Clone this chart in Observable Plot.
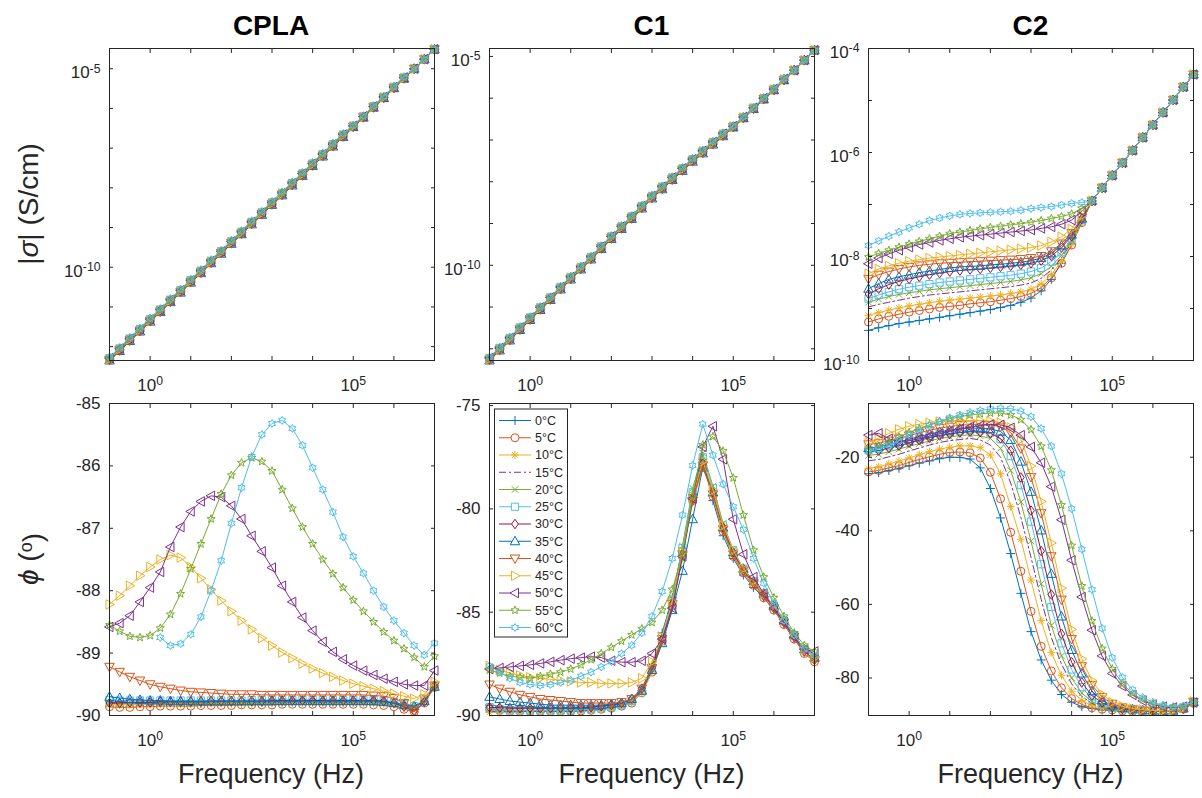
<!DOCTYPE html>
<html><head><meta charset="utf-8">
<script src="https://cdn.jsdelivr.net/npm/d3@7"></script>
<script src="https://cdn.jsdelivr.net/npm/@observablehq/plot@0.6"></script>
<style>
html,body{margin:0;padding:0;background:#fff;overflow:hidden;}
#fig{position:relative;width:1202px;height:798px;background:#fff;font-family:"Liberation Sans",Arial,Helvetica,sans-serif;}
</style></head><body><div id="fig"></div>
<script>
// ---------------- DATA ----------------
const temps = ["0°C","5°C","10°C","15°C","20°C","25°C","30°C","35°C","40°C","45°C","50°C","55°C","60°C"];
const panelTitles = ["CPLA","C1","C2"];
const logFreq = [-1,-0.75,-0.5,-0.25,0,0.25,0.5,0.75,1,1.25,1.5,
  1.75,2,2.25,2.5,2.75,3,3.25,3.5,3.75,4,4.25,
  4.5,4.75,5,5.25,5.5,5.75,6,6.25,6.5,6.75,7];
const xDecadeExps = [-1,0,1,2,3,4,5,6,7];
const xLabelExps = [0,5];

// log10 |sigma| (S/cm), one row per temperature
const sigCPLA = [
 [-12.35,-12.11,-11.86,-11.62,-11.37,-11.13,-10.88,-10.64,-10.39,-10.15,-9.9,-9.66,-9.41,-9.17,-8.92,-8.68,-8.43,-8.19,-7.94,-7.7,-7.45,-7.21,-6.96,-6.72,-6.47,-6.23,-5.98,-5.74,-5.49,-5.25,-5,-4.76,-4.51],
 [-12.33,-12.09,-11.84,-11.6,-11.35,-11.11,-10.86,-10.62,-10.37,-10.13,-9.88,-9.64,-9.39,-9.15,-8.9,-8.66,-8.41,-8.17,-7.92,-7.68,-7.43,-7.19,-6.94,-6.7,-6.46,-6.22,-5.97,-5.73,-5.48,-5.24,-5,-4.76,-4.51],
 [-12.33,-12.09,-11.84,-11.6,-11.35,-11.11,-10.86,-10.62,-10.37,-10.13,-9.88,-9.64,-9.39,-9.15,-8.9,-8.66,-8.41,-8.17,-7.92,-7.68,-7.43,-7.19,-6.94,-6.7,-6.46,-6.22,-5.97,-5.73,-5.48,-5.24,-5,-4.76,-4.51],
 [-12.31,-12.07,-11.82,-11.58,-11.33,-11.09,-10.84,-10.6,-10.35,-10.11,-9.86,-9.62,-9.37,-9.13,-8.88,-8.64,-8.39,-8.15,-7.9,-7.66,-7.41,-7.17,-6.92,-6.68,-6.45,-6.21,-5.96,-5.72,-5.47,-5.23,-5,-4.76,-4.51],
 [-12.31,-12.07,-11.82,-11.58,-11.33,-11.09,-10.84,-10.6,-10.35,-10.11,-9.86,-9.62,-9.37,-9.13,-8.88,-8.64,-8.39,-8.15,-7.9,-7.66,-7.41,-7.17,-6.92,-6.68,-6.45,-6.21,-5.96,-5.72,-5.47,-5.23,-5,-4.76,-4.51],
 [-12.29,-12.05,-11.8,-11.56,-11.31,-11.07,-10.82,-10.58,-10.33,-10.09,-9.84,-9.6,-9.35,-9.11,-8.86,-8.62,-8.37,-8.13,-7.88,-7.64,-7.39,-7.15,-6.9,-6.66,-6.44,-6.2,-5.95,-5.71,-5.46,-5.22,-5,-4.76,-4.51],
 [-12.31,-12.07,-11.82,-11.58,-11.33,-11.09,-10.84,-10.6,-10.35,-10.11,-9.86,-9.62,-9.37,-9.13,-8.88,-8.64,-8.39,-8.15,-7.9,-7.66,-7.41,-7.17,-6.92,-6.68,-6.45,-6.21,-5.96,-5.72,-5.47,-5.23,-5,-4.76,-4.51],
 [-12.35,-12.11,-11.86,-11.62,-11.37,-11.13,-10.88,-10.64,-10.39,-10.15,-9.9,-9.66,-9.41,-9.17,-8.92,-8.68,-8.43,-8.19,-7.94,-7.7,-7.45,-7.21,-6.96,-6.72,-6.47,-6.23,-5.98,-5.74,-5.49,-5.25,-5,-4.76,-4.51],
 [-12.33,-12.09,-11.84,-11.6,-11.35,-11.11,-10.86,-10.62,-10.37,-10.13,-9.88,-9.64,-9.39,-9.15,-8.9,-8.66,-8.41,-8.17,-7.92,-7.68,-7.43,-7.19,-6.94,-6.7,-6.46,-6.22,-5.97,-5.73,-5.48,-5.24,-5,-4.76,-4.51],
 [-12.31,-12.07,-11.82,-11.58,-11.33,-11.09,-10.84,-10.6,-10.35,-10.11,-9.86,-9.62,-9.37,-9.13,-8.88,-8.64,-8.39,-8.15,-7.9,-7.66,-7.41,-7.17,-6.92,-6.68,-6.45,-6.21,-5.96,-5.72,-5.47,-5.23,-5,-4.76,-4.51],
 [-12.29,-12.05,-11.8,-11.56,-11.31,-11.07,-10.82,-10.58,-10.33,-10.09,-9.84,-9.6,-9.35,-9.11,-8.86,-8.62,-8.37,-8.13,-7.88,-7.64,-7.39,-7.15,-6.9,-6.66,-6.44,-6.2,-5.95,-5.71,-5.46,-5.22,-5,-4.76,-4.51],
 [-12.29,-12.05,-11.8,-11.56,-11.31,-11.07,-10.82,-10.58,-10.33,-10.09,-9.84,-9.6,-9.35,-9.11,-8.86,-8.62,-8.37,-8.13,-7.88,-7.64,-7.39,-7.15,-6.9,-6.66,-6.44,-6.2,-5.95,-5.71,-5.46,-5.22,-5,-4.76,-4.51],
 [-12.26,-12.02,-11.77,-11.53,-11.28,-11.04,-10.79,-10.55,-10.3,-10.06,-9.81,-9.57,-9.32,-9.08,-8.83,-8.59,-8.34,-8.1,-7.85,-7.61,-7.36,-7.12,-6.87,-6.63,-6.42,-6.18,-5.93,-5.69,-5.44,-5.2,-5,-4.76,-4.51]
];
const sigC1 = [
 [-12.28,-12.04,-11.8,-11.55,-11.31,-11.07,-10.83,-10.58,-10.34,-10.1,-9.86,-9.61,-9.37,-9.13,-8.89,-8.64,-8.4,-8.18,-7.96,-7.74,-7.52,-7.32,-7.11,-6.91,-6.7,-6.48,-6.26,-6.03,-5.81,-5.57,-5.33,-5.09,-4.85],
 [-12.26,-12.02,-11.78,-11.53,-11.29,-11.05,-10.81,-10.56,-10.32,-10.08,-9.84,-9.59,-9.35,-9.11,-8.87,-8.62,-8.38,-8.16,-7.94,-7.72,-7.5,-7.3,-7.09,-6.89,-6.69,-6.47,-6.25,-6.02,-5.8,-5.56,-5.33,-5.09,-4.85],
 [-12.26,-12.02,-11.78,-11.53,-11.29,-11.05,-10.81,-10.56,-10.32,-10.08,-9.84,-9.59,-9.35,-9.11,-8.87,-8.62,-8.38,-8.16,-7.94,-7.72,-7.5,-7.3,-7.09,-6.89,-6.69,-6.47,-6.25,-6.02,-5.8,-5.56,-5.33,-5.09,-4.85],
 [-12.24,-12,-11.76,-11.51,-11.27,-11.03,-10.79,-10.54,-10.3,-10.06,-9.82,-9.57,-9.33,-9.09,-8.85,-8.6,-8.36,-8.14,-7.92,-7.7,-7.48,-7.28,-7.07,-6.87,-6.68,-6.46,-6.24,-6.01,-5.79,-5.55,-5.33,-5.09,-4.85],
 [-12.24,-12,-11.76,-11.51,-11.27,-11.03,-10.79,-10.54,-10.3,-10.06,-9.82,-9.57,-9.33,-9.09,-8.85,-8.6,-8.36,-8.14,-7.92,-7.7,-7.48,-7.28,-7.07,-6.87,-6.68,-6.46,-6.24,-6.01,-5.79,-5.55,-5.33,-5.09,-4.85],
 [-12.22,-11.98,-11.74,-11.49,-11.25,-11.01,-10.77,-10.52,-10.28,-10.04,-9.8,-9.55,-9.31,-9.07,-8.83,-8.58,-8.34,-8.12,-7.9,-7.68,-7.46,-7.26,-7.05,-6.85,-6.67,-6.45,-6.23,-6,-5.78,-5.54,-5.33,-5.09,-4.85],
 [-12.24,-12,-11.76,-11.51,-11.27,-11.03,-10.79,-10.54,-10.3,-10.06,-9.82,-9.57,-9.33,-9.09,-8.85,-8.6,-8.36,-8.14,-7.92,-7.7,-7.48,-7.28,-7.07,-6.87,-6.68,-6.46,-6.24,-6.01,-5.79,-5.55,-5.33,-5.09,-4.85],
 [-12.28,-12.04,-11.8,-11.55,-11.31,-11.07,-10.83,-10.58,-10.34,-10.1,-9.86,-9.61,-9.37,-9.13,-8.89,-8.64,-8.4,-8.18,-7.96,-7.74,-7.52,-7.32,-7.11,-6.91,-6.7,-6.48,-6.26,-6.03,-5.81,-5.57,-5.33,-5.09,-4.85],
 [-12.26,-12.02,-11.78,-11.53,-11.29,-11.05,-10.81,-10.56,-10.32,-10.08,-9.84,-9.59,-9.35,-9.11,-8.87,-8.62,-8.38,-8.16,-7.94,-7.72,-7.5,-7.3,-7.09,-6.89,-6.69,-6.47,-6.25,-6.02,-5.8,-5.56,-5.33,-5.09,-4.85],
 [-12.24,-12,-11.76,-11.51,-11.27,-11.03,-10.79,-10.54,-10.3,-10.06,-9.82,-9.57,-9.33,-9.09,-8.85,-8.6,-8.36,-8.14,-7.92,-7.7,-7.48,-7.28,-7.07,-6.87,-6.68,-6.46,-6.24,-6.01,-5.79,-5.55,-5.33,-5.09,-4.85],
 [-12.22,-11.98,-11.74,-11.49,-11.25,-11.01,-10.77,-10.52,-10.28,-10.04,-9.8,-9.55,-9.31,-9.07,-8.83,-8.58,-8.34,-8.12,-7.9,-7.68,-7.46,-7.26,-7.05,-6.85,-6.67,-6.45,-6.23,-6,-5.78,-5.54,-5.33,-5.09,-4.85],
 [-12.22,-11.98,-11.74,-11.49,-11.25,-11.01,-10.77,-10.52,-10.28,-10.04,-9.8,-9.55,-9.31,-9.07,-8.83,-8.58,-8.34,-8.12,-7.9,-7.68,-7.46,-7.26,-7.05,-6.85,-6.67,-6.45,-6.23,-6,-5.78,-5.54,-5.33,-5.09,-4.85],
 [-12.2,-11.96,-11.72,-11.47,-11.23,-10.99,-10.75,-10.5,-10.26,-10.02,-9.78,-9.53,-9.29,-9.05,-8.81,-8.56,-8.32,-8.1,-7.88,-7.66,-7.44,-7.24,-7.03,-6.83,-6.66,-6.44,-6.22,-5.99,-5.77,-5.53,-5.33,-5.09,-4.85]
];
const sigC2 = [
 [-9.42,-9.37,-9.33,-9.29,-9.26,-9.23,-9.2,-9.17,-9.14,-9.11,-9.08, -9.05,-9.02,-8.98,-8.94,-8.88,-8.8,-8.66,-8.44,-8.13,-7.76,-7.34, -6.93,-6.68,-6.44,-6.2,-5.96,-5.71,-5.47,-5.23,-4.99,-4.74,-4.5],
 [-9.26,-9.2,-9.15,-9.11,-9.07,-9.04,-9.01,-8.98,-8.96,-8.94,-8.91, -8.89,-8.87,-8.84,-8.81,-8.77,-8.71,-8.6,-8.41,-8.13,-7.78,-7.35, -6.93,-6.68,-6.44,-6.2,-5.96,-5.71,-5.47,-5.23,-4.99,-4.74,-4.5],
 [-9.13,-9.08,-9.03,-8.99,-8.95,-8.92,-8.89,-8.86,-8.84,-8.82,-8.8, -8.78,-8.76,-8.74,-8.71,-8.68,-8.63,-8.53,-8.35,-8.09,-7.76,-7.34, -6.93,-6.68,-6.44,-6.2,-5.96,-5.71,-5.47,-5.23,-4.99,-4.74,-4.5],
 [-8.97,-8.92,-8.88,-8.84,-8.8,-8.77,-8.74,-8.72,-8.7,-8.68,-8.66, -8.64,-8.62,-8.6,-8.58,-8.55,-8.51,-8.42,-8.26,-8.03,-7.73,-7.33, -6.93,-6.68,-6.44,-6.2,-5.96,-5.71,-5.47,-5.23,-4.99,-4.74,-4.5],
 [-8.88,-8.82,-8.77,-8.73,-8.7,-8.67,-8.64,-8.62,-8.6,-8.58,-8.56, -8.54,-8.52,-8.5,-8.48,-8.45,-8.41,-8.33,-8.19,-7.98,-7.7,-7.32, -6.93,-6.68,-6.44,-6.2,-5.96,-5.71,-5.47,-5.23,-4.99,-4.74,-4.5],
 [-8.81,-8.74,-8.68,-8.63,-8.59,-8.56,-8.53,-8.5,-8.48,-8.46,-8.44, -8.42,-8.4,-8.38,-8.36,-8.33,-8.29,-8.22,-8.1,-7.92,-7.66,-7.3, -6.93,-6.68,-6.44,-6.2,-5.96,-5.71,-5.47,-5.23,-4.99,-4.74,-4.5],
 [-8.72,-8.62,-8.54,-8.48,-8.43,-8.39,-8.35,-8.32,-8.29,-8.27,-8.25, -8.24,-8.22,-8.2,-8.18,-8.16,-8.13,-8.08,-7.99,-7.83,-7.61,-7.28, -6.93,-6.68,-6.44,-6.2,-5.96,-5.71,-5.47,-5.23,-4.99,-4.74,-4.5],
 [-8.62,-8.52,-8.44,-8.39,-8.35,-8.31,-8.28,-8.25,-8.22,-8.2,-8.19, -8.18,-8.16,-8.15,-8.13,-8.11,-8.08,-8.03,-7.94,-7.79,-7.58,-7.27, -6.93,-6.68,-6.44,-6.2,-5.96,-5.71,-5.47,-5.23,-4.99,-4.74,-4.5],
 [-8.43,-8.35,-8.29,-8.24,-8.2,-8.17,-8.15,-8.13,-8.12,-8.11,-8.1, -8.09,-8.08,-8.07,-8.06,-8.05,-8.03,-7.99,-7.9,-7.75,-7.55,-7.25, -6.93,-6.68,-6.44,-6.2,-5.96,-5.71,-5.47,-5.23,-4.99,-4.74,-4.5],
 [-8.33,-8.24,-8.18,-8.13,-8.09,-8.06,-8.03,-8.01,-7.99,-7.97,-7.95, -7.93,-7.91,-7.89,-7.87,-7.85,-7.83,-7.79,-7.72,-7.62,-7.47,-7.22, -6.93,-6.68,-6.44,-6.2,-5.96,-5.71,-5.47,-5.23,-4.99,-4.74,-4.5],
 [-8.14,-8.03,-7.95,-7.88,-7.82,-7.77,-7.73,-7.69,-7.66,-7.63,-7.61, -7.59,-7.57,-7.55,-7.53,-7.51,-7.49,-7.46,-7.43,-7.38,-7.3,-7.13, -6.93,-6.68,-6.44,-6.2,-5.96,-5.71,-5.47,-5.23,-4.99,-4.74,-4.5],
 [-8.01,-7.94,-7.88,-7.82,-7.76,-7.71,-7.66,-7.61,-7.56,-7.53,-7.5, -7.47,-7.44,-7.42,-7.39,-7.37,-7.34,-7.31,-7.27,-7.23,-7.18,-7.07, -6.93,-6.68,-6.44,-6.2,-5.96,-5.71,-5.47,-5.23,-4.99,-4.74,-4.5],
 [-7.79,-7.7,-7.61,-7.53,-7.45,-7.38,-7.31,-7.26,-7.22,-7.19,-7.17, -7.16,-7.15,-7.14,-7.13,-7.11,-7.08,-7.06,-7.04,-7.01,-6.98,-6.96, -6.93,-6.68,-6.44,-6.2,-5.96,-5.71,-5.47,-5.23,-4.99,-4.74,-4.5]
];

// phase phi (degrees), one row per temperature
const phiCPLA = [
 [-89.78,-89.8,-89.8,-89.81,-89.8,-89.8,-89.79,-89.8,-89.8,-89.8,-89.79, -89.79,-89.8,-89.8,-89.79,-89.79,-89.78,-89.78,-89.78,-89.78,-89.78,-89.78, -89.78,-89.78,-89.78,-89.78,-89.78,-89.79,-89.8,-89.82,-89.84,-89.78,-89.55],
 [-89.86,-89.87,-89.87,-89.86,-89.86,-89.85,-89.85,-89.85,-89.85,-89.84,-89.84, -89.84,-89.84,-89.83,-89.83,-89.83,-89.83,-89.82,-89.82,-89.82,-89.82,-89.82, -89.82,-89.82,-89.82,-89.82,-89.83,-89.84,-89.86,-89.9,-89.94,-89.8,-89.55],
 [-89.83,-89.83,-89.83,-89.82,-89.82,-89.82,-89.82,-89.82,-89.81,-89.81,-89.81, -89.81,-89.81,-89.81,-89.81,-89.8,-89.8,-89.8,-89.8,-89.8,-89.8,-89.8, -89.8,-89.8,-89.8,-89.8,-89.8,-89.81,-89.83,-89.86,-89.88,-89.78,-89.54],
 [-89.79,-89.79,-89.79,-89.79,-89.78,-89.78,-89.78,-89.78,-89.78,-89.78,-89.78, -89.78,-89.78,-89.77,-89.77,-89.77,-89.77,-89.77,-89.77,-89.77,-89.77,-89.77, -89.77,-89.77,-89.77,-89.77,-89.77,-89.78,-89.8,-89.83,-89.86,-89.77,-89.53],
 [-89.81,-89.81,-89.81,-89.8,-89.8,-89.8,-89.8,-89.8,-89.8,-89.8,-89.79, -89.79,-89.79,-89.79,-89.79,-89.79,-89.79,-89.79,-89.79,-89.79,-89.79,-89.79, -89.79,-89.79,-89.79,-89.79,-89.79,-89.8,-89.81,-89.84,-89.87,-89.77,-89.54],
 [-89.75,-89.76,-89.76,-89.76,-89.76,-89.76,-89.76,-89.76,-89.76,-89.76,-89.76, -89.76,-89.76,-89.76,-89.75,-89.75,-89.75,-89.75,-89.75,-89.75,-89.75,-89.75, -89.75,-89.75,-89.75,-89.75,-89.75,-89.76,-89.78,-89.82,-89.85,-89.76,-89.53],
 [-89.8,-89.8,-89.79,-89.79,-89.79,-89.78,-89.78,-89.78,-89.78,-89.78,-89.77, -89.77,-89.77,-89.77,-89.77,-89.77,-89.76,-89.76,-89.76,-89.76,-89.76,-89.76, -89.76,-89.76,-89.76,-89.76,-89.76,-89.77,-89.8,-89.86,-89.93,-89.78,-89.52],
 [-89.7,-89.72,-89.74,-89.75,-89.76,-89.76,-89.77,-89.77,-89.77,-89.77,-89.77, -89.77,-89.77,-89.77,-89.77,-89.77,-89.77,-89.77,-89.77,-89.77,-89.77,-89.77, -89.77,-89.77,-89.77,-89.77,-89.77,-89.78,-89.8,-89.83,-89.85,-89.77,-89.54],
 [-89.22,-89.3,-89.38,-89.44,-89.5,-89.54,-89.57,-89.6,-89.62,-89.63,-89.64, -89.65,-89.66,-89.66,-89.66,-89.67,-89.67,-89.67,-89.67,-89.67,-89.67,-89.67, -89.67,-89.67,-89.67,-89.67,-89.68,-89.69,-89.72,-89.8,-89.92,-89.73,-89.52],
 [-88.22,-88.08,-87.92,-87.76,-87.62,-87.5,-87.43,-87.47,-87.62,-87.8,-87.98, -88.16,-88.33,-88.48,-88.62,-88.76,-88.88,-88.99,-89.08,-89.17,-89.25,-89.32, -89.38,-89.44,-89.49,-89.53,-89.57,-89.61,-89.65,-89.69,-89.73,-89.66,-89.46],
 [-88.58,-88.52,-88.4,-88.18,-87.95,-87.7,-87.3,-86.98,-86.73,-86.57,-86.48, -86.5,-86.64,-86.85,-87.12,-87.37,-87.63,-87.92,-88.18,-88.43,-88.64,-88.82, -88.98,-89.1,-89.2,-89.28,-89.35,-89.41,-89.46,-89.5,-89.52,-89.52,-89.28],
 [-88.55,-88.65,-88.73,-88.75,-88.72,-88.6,-88.38,-88.05,-87.65,-87.25,-86.85, -86.45,-86.15,-85.95,-85.87,-85.93,-86.08,-86.38,-86.68,-86.98,-87.25,-87.5, -87.73,-87.95,-88.15,-88.33,-88.5,-88.66,-88.8,-88.93,-89.07,-89.22,-89.05],
 [null,null,null,null,null,-88.75,-88.88,-88.85,-88.7,-88.42,-88, -87.52,-86.92,-86.35,-85.85,-85.5,-85.32,-85.27,-85.4,-85.67,-86.03,-86.38, -86.74,-87.14,-87.45,-87.72,-88,-88.26,-88.48,-88.68,-88.88,-89.03,-88.84]
];
const phiC1 = [
 [-89.5,-89.55,-89.6,-89.6,-89.6,-89.62,-89.62,-89.62,-89.6,-89.6,-89.58, -89.55,-89.5,-89.45,-89.3,-88.8,-87.6,-86,-84.3,-81.9,-79.3,-77.6, -79.6,-81.3,-82.4,-83.2,-83.8,-84.3,-84.9,-85.6,-86.3,-86.9,-87.3],
 [-89.7,-89.75,-89.8,-89.8,-89.8,-89.8,-89.8,-89.8,-89.8,-89.78,-89.75, -89.7,-89.65,-89.55,-89.4,-88.9,-87.9,-86.4,-84.7,-82.3,-79.6,-77.9, -79.4,-81.1,-82.3,-83.1,-83.7,-84.3,-84.9,-85.6,-86.3,-87,-87.4],
 [-89.85,-89.85,-89.85,-89.85,-89.8,-89.8,-89.8,-89.8,-89.8,-89.8,-89.75, -89.7,-89.65,-89.55,-89.4,-88.9,-87.9,-86.5,-84.8,-82.4,-79.7,-78, -79.3,-81,-82.2,-83,-83.6,-84.2,-84.8,-85.5,-86.2,-86.9,-87.3],
 [-89.8,-89.8,-89.8,-89.8,-89.8,-89.8,-89.8,-89.8,-89.8,-89.78,-89.75, -89.7,-89.6,-89.5,-89.35,-88.8,-87.8,-86.3,-84.6,-82.1,-79.4,-77.7, -79.2,-80.9,-82.1,-82.9,-83.5,-84.1,-84.7,-85.4,-86.1,-86.8,-87.2],
 [-89.7,-89.72,-89.74,-89.75,-89.75,-89.75,-89.75,-89.75,-89.73,-89.7,-89.68, -89.65,-89.6,-89.5,-89.3,-88.7,-87.6,-86.1,-84.3,-81.8,-79,-77.3, -78.9,-80.7,-82,-82.9,-83.5,-84.1,-84.7,-85.4,-86.1,-86.8,-87.2],
 [-89.6,-89.7,-89.75,-89.75,-89.75,-89.75,-89.75,-89.75,-89.75,-89.7,-89.68, -89.65,-89.6,-89.5,-89.3,-88.8,-87.7,-86.2,-84.4,-81.9,-79.2,-77.5, -79,-80.8,-82,-82.9,-83.5,-84.1,-84.7,-85.4,-86.1,-86.8,-87.2],
 [-89.6,-89.62,-89.65,-89.65,-89.65,-89.65,-89.65,-89.65,-89.65,-89.63,-89.6, -89.55,-89.5,-89.4,-89.2,-88.7,-87.7,-86.3,-84.6,-82.2,-79.5,-77.8, -79.2,-80.9,-82.1,-83,-83.6,-84.2,-84.8,-85.5,-86.2,-86.9,-87.3],
 [-89.1,-89.2,-89.3,-89.35,-89.4,-89.45,-89.5,-89.5,-89.5,-89.5,-89.5, -89.5,-89.45,-89.4,-89.2,-88.8,-87.8,-86.5,-84.9,-83,-80.5,-78, -79.2,-80.9,-82.1,-82.9,-83.5,-84.1,-84.7,-85.4,-86.1,-86.8,-87.2],
 [-88.5,-88.7,-88.85,-89,-89.1,-89.2,-89.25,-89.3,-89.35,-89.4,-89.4, -89.4,-89.4,-89.35,-89.2,-88.7,-87.7,-86.3,-84.6,-82.2,-79.6,-77.9, -79.3,-81,-82.2,-83,-83.6,-84.2,-84.8,-85.5,-86.2,-86.9,-87.3],
 [-87.6,-87.8,-87.95,-88.05,-88.15,-88.2,-88.25,-88.3,-88.35,-88.4,-88.4, -88.45,-88.45,-88.45,-88.4,-88.2,-87.4,-86.2,-84.5,-82.1,-79.4,-77.7, -79.1,-80.8,-82,-82.9,-83.5,-84.1,-84.7,-85.4,-86.1,-86.8,-87.2],
 [-87.75,-87.7,-87.65,-87.6,-87.55,-87.48,-87.4,-87.32,-87.25,-87.2,-87.15, -87.2,-87.35,-87.42,-87.42,-87.35,-87,-86.3,-84.8,-82.3,-79.5,-77, -76,-77.6,-80.5,-82.2,-83.3,-84.1,-84.8,-85.5,-86.2,-86.8,-86.9],
 [-87.8,-87.95,-88.1,-88.15,-88.2,-88.1,-88,-87.9,-87.75,-87.55,-87.3, -87,-86.7,-86.4,-86.1,-85.8,-85.5,-84.9,-83.9,-82.2,-79.4,-76.9, -76.5,-77.2,-78.5,-80.3,-82,-83.3,-84.3,-85.2,-86,-86.6,-86.9],
 [-87.6,-87.9,-88.2,-88.4,-88.5,-88.55,-88.5,-88.4,-88.3,-88.1,-87.9, -87.65,-87.4,-87,-86.6,-86,-85.2,-84,-82.4,-80.3,-77.9,-75.9, -77.4,-78.8,-79.9,-81,-82.4,-83.6,-84.6,-85.4,-86.1,-86.8,-87.1]
];
const phiC2 = [
 [-24.5,-24.2,-23.6,-23,-22.3,-21.6,-21,-20.4,-20,-20.05,-20.5, -22.9,-28.5,-36.5,-46.2,-57,-67.4,-75.1,-80.6,-84.5,-86.6,-87.8, -88.3,-88.7,-88.8,-89,-89,-89,-89,-89,-88.9,-88.4,-86.8],
 [-24,-23.6,-22.9,-22.3,-21.4,-20.6,-19.9,-19.2,-18.7,-18.6,-18.8, -20.2,-24.1,-31.3,-40.4,-51,-61.9,-71.4,-78.1,-82.7,-85.6,-87.2, -88.1,-88.5,-88.7,-89,-89.1,-89.1,-89.1,-89,-88.9,-88.5,-86.9],
 [-23,-22.6,-21.8,-21.1,-20.2,-19.3,-18.5,-17.8,-17.3,-16.9,-16.9, -17.4,-19.4,-24.5,-33.4,-42.3,-53.4,-64.4,-73.1,-79.3,-83.6,-86.1, -87.5,-88.2,-88.6,-88.8,-89,-89,-89,-89,-88.9,-88.4,-86.8],
 [-21,-20.6,-19.9,-19.2,-18.3,-17.5,-16.7,-16,-15.5,-15.2,-14.9, -15.3,-16.7,-20,-27,-36.3,-47.2,-58.6,-69,-76.2,-81.6,-85, -86.9,-88,-88.4,-88.6,-88.8,-89,-89,-89,-88.9,-88.4,-86.7],
 [-19.5,-19.2,-18.5,-17.8,-17,-16.3,-15.6,-14.9,-14.5,-14.1,-13.9, -14.2,-14.9,-17.6,-23.6,-32.2,-42.8,-54.4,-65.7,-74,-80,-84.1, -86.4,-87.7,-88.2,-88.6,-88.8,-89,-89,-89,-88.9,-88.3,-86.6],
 [-18,-17.7,-17,-16.4,-15.6,-14.9,-14.2,-13.6,-13.2,-12.8,-12.6, -12.7,-13.3,-15.1,-19.7,-27.6,-37.5,-49.1,-60.7,-70.6,-77.7,-82.5, -85.6,-87.2,-88.1,-88.5,-88.8,-89,-89,-89,-88.9,-88.3,-86.6],
 [-18.5,-18.2,-17.5,-16.9,-16.1,-15.4,-14.7,-14.1,-13.7,-13.3,-13.1, -13.2,-13.5,-14.9,-18.2,-25.5,-34.5,-45.5,-57.3,-68,-75.7,-81.2, -84.8,-86.7,-87.9,-88.4,-88.7,-88.9,-89,-89,-88.9,-88.3,-86.6],
 [-17.5,-17.2,-16.5,-15.9,-15.1,-14.4,-13.7,-13.1,-12.7,-12.3,-12.1, -12.1,-12.3,-13,-15.3,-21.2,-29.4,-39.9,-51.7,-63.3,-72.4,-78.8, -83.6,-86.1,-87.5,-88.2,-88.5,-88.8,-88.9,-89,-88.9,-88.3,-86.5],
 [-16.5,-16.2,-15.5,-14.9,-14.1,-13.4,-12.7,-12.1,-11.7,-11.3,-11.1, -11,-11.2,-11.7,-13.3,-17.6,-25.4,-35.2,-46.9,-58.7,-69.4,-76.8, -81.9,-85.2,-87,-88,-88.5,-88.8,-88.9,-89,-88.9,-88.3,-86.5],
 [-16,-14.8,-13.5,-12.4,-11.6,-11,-10.6,-10.3,-10.1,-10,-10, -10,-10.2,-10.6,-11.9,-15.2,-22.4,-32,-43.3,-55.6,-66.8,-74.8, -80.7,-84.5,-86.6,-87.7,-88.3,-88.6,-88.8,-88.9,-88.8,-88.2,-86.4],
 [-14,-13.5,-15,-15.8,-15.5,-15,-14.3,-13.6,-12.9,-12.3,-11.8, -11.4,-11.1,-11.2,-12,-14,-17.2,-21.5,-28,-37,-48,-58, -67,-74,-78.8,-82.2,-84.6,-86.2,-87.2,-87.8,-88,-87.8,-86.7],
 [-18,-17,-15.8,-14.5,-13.3,-12.2,-11.2,-10.3,-9.6,-9,-8.5, -8.2,-8,-8,-8.5,-9.8,-12.5,-17,-23.5,-33,-44,-55, -64.5,-72,-77.5,-81.5,-84.2,-85.9,-87,-87.6,-87.9,-87.7,-86.6],
 [-18.5,-17.8,-16.8,-15.5,-14,-12.6,-11.4,-10.3,-9.3,-8.5,-7.8, -7.3,-6.9,-6.7,-6.8,-7.5,-9,-12.2,-17,-24.5,-34,-45, -56,-66.5,-74.5,-79.8,-83.2,-85.3,-86.6,-87.4,-87.8,-87.6,-86.5]
];

// axis tick / tick-label values
const sigTickExpsA = [-12,-11,-10,-9,-8,-7,-6,-5];
const sigLabelExpsA = [-10,-5];
const sigTickExpsC2 = [-10,-9,-8,-7,-6,-5,-4];
const sigLabelExpsC2 = [-10,-8,-6,-4];
const phiTicksCPLA = [-90,-89,-88,-87,-86,-85];
const phiTicksC1 = [-90,-85,-80,-75];
const phiTicksC2 = [-80,-60,-40,-20];

// ---------------- STYLE ----------------
const AXIS = "#262626";
const seriesColors = ["#0072BD","#D95319","#EDB120","#7E2F8E","#77AC30","#4DBEEE","#A2142F","#0072BD","#D95319","#EDB120","#7E2F8E","#77AC30","#4DBEEE"];
const seriesSymbols = ["plus","circle","asterisk","none","times","square","diamond","triUp","triDown","triRight","triLeft","penta","hexa"];
const MR = 5;
const sym = fn => ({draw(c, size){ const h = Math.sqrt(size/Math.PI); fn(c, h); }});
const poly = (c, p) => { c.moveTo(p[0][0], p[0][1]); for (let i = 1; i < p.length; i++) c.lineTo(p[i][0], p[i][1]); c.closePath(); };
const star = (n, rin, rout) => sym((c, h) => { const p = []; for (let i = 0; i < 2*n; i++) { const a = -Math.PI/2 + i*Math.PI/n; const r = (i % 2 ? rin : rout)*h; p.push([r*Math.cos(a), r*Math.sin(a)]); } poly(c, p); });
const SYM = {
  plus: sym((c,h)=>{const k=h*0.9;c.moveTo(-k,0);c.lineTo(k,0);c.moveTo(0,-k);c.lineTo(0,k);}),
  circle: sym((c,h)=>{const r=h*0.8;c.moveTo(r,0);c.arc(0,0,r,0,2*Math.PI);}),
  asterisk: sym((c,h)=>{const m=h*0.8,k=h*0.57;c.moveTo(-m,0);c.lineTo(m,0);c.moveTo(0,-m);c.lineTo(0,m);c.moveTo(-k,-k);c.lineTo(k,k);c.moveTo(-k,k);c.lineTo(k,-k);}),
  none: null,
  times: sym((c,h)=>{const k=h*0.65;c.moveTo(-k,-k);c.lineTo(k,k);c.moveTo(-k,k);c.lineTo(k,-k);}),
  square: sym((c,h)=>{const k=h*0.72;c.rect(-k,-k,2*k,2*k);}),
  diamond: sym((c,h)=>poly(c,[[0,-h*0.95],[h*0.68,0],[0,h*0.95],[-h*0.68,0]])),
  triUp: sym((c,h)=>poly(c,[[0,-h],[h*0.95,h*0.7],[-h*0.95,h*0.7]])),
  triDown: sym((c,h)=>poly(c,[[0,h],[h*0.95,-h*0.7],[-h*0.95,-h*0.7]])),
  triRight: sym((c,h)=>poly(c,[[h,0],[-h*0.7,-h*0.95],[-h*0.7,h*0.95]])),
  triLeft: sym((c,h)=>poly(c,[[-h,0],[h*0.7,-h*0.95],[h*0.7,h*0.95]])),
  penta: star(5, 0.36, 0.85),
  hexa: star(6, 0.47, 0.8)
};
const L = {left:[108.5,489,868], top:[48,403], w:325, h:312, mL:75, mR:8, mT:12, mB:45};
const FONT = '"Liberation Sans", Arial, Helvetica, sans-serif';
const fig = document.getElementById("fig");

function drawPanel(ci, ri, rows, yc) {
  const toY = yc.log ? v => 10 ** v : v => v;
  const marks = [];
  rows.forEach((vals, si) => {
    const pts = [];
    logFreq.forEach((lf, i) => { if (vals[i] != null) pts.push({f: 10 ** lf, v: toY(vals[i])}); });
    marks.push(Plot.line(pts, {x: "f", y: "v", stroke: seriesColors[si], strokeWidth: 1,
      strokeDasharray: seriesSymbols[si] === "none" ? "7,3,2,3" : null}));
    const s = SYM[seriesSymbols[si]];
    if (s) marks.push(Plot.dot(pts, {x: "f", y: "v", symbol: s, r: MR, stroke: seriesColors[si], fill: "none", strokeWidth: 1}));
  });
  const xDec = xDecadeExps.map(e => 10 ** e);
  const yT = yc.log ? yc.ticks.map(e => 10 ** e) : yc.ticks;
  const yLab = yc.log ? yc.labels.map(e => 10 ** e) : yc.labels;
  const pow = d => "10^" + Math.round(Math.log10(d));
  marks.push(
    Plot.frame({stroke: AXIS, strokeWidth: 1}),
    Plot.axisX(xDec, {anchor: "bottom", tickSize: -4, tickFormat: () => "", label: null, stroke: AXIS}),
    Plot.axisX(xDec, {anchor: "top", tickSize: -4, tickFormat: () => "", label: null, stroke: AXIS}),
    Plot.axisY(yT, {anchor: "left", tickSize: -4, tickFormat: () => "", label: null, stroke: AXIS}),
    Plot.axisY(yT, {anchor: "right", tickSize: -4, tickFormat: () => "", label: null, stroke: AXIS}),
    Plot.axisX(xLabelExps.map(e => 10 ** e), {anchor: "bottom", tickSize: 0, tickPadding: 18, tickFormat: pow, label: null, fill: AXIS, fontSize: 17}),
    Plot.axisY(yLab, {anchor: "left", tickSize: 0, tickPadding: 9, tickFormat: yc.log ? pow : d => String(d), label: null, fill: AXIS, fontSize: 17, dy: yc.log ? 4 : 0})
  );
  const svg = Plot.plot({
    width: L.w + L.mL + L.mR, height: L.h + L.mT + L.mB,
    marginLeft: L.mL, marginRight: L.mR, marginTop: L.mT, marginBottom: L.mB,
    x: {type: "log", domain: [0.1, 1e7], axis: null},
    y: yc.log ? {type: "log", domain: [10 ** yc.lo, 10 ** yc.hi], axis: null} : {type: "linear", domain: [yc.lo, yc.hi], axis: null},
    style: {fontFamily: FONT, fontSize: "17px", color: AXIS, background: "transparent", overflow: "visible"},
    marks
  });
  svg.style.position = "absolute";
  svg.style.left = (L.left[ci] - L.mL) + "px";
  svg.style.top = (L.top[ri] - L.mT) + "px";
  d3.select(svg).selectAll("text").each(function() {
    const t = this.textContent;
    if (t.startsWith("10^")) {
      const e = t.slice(3); const s = d3.select(this); s.text(null);
      s.append("tspan").text("10");
      s.append("tspan").attr("dy", "-0.45em").attr("font-size", "0.72em").text(e);
    }
  });
  fig.appendChild(svg);
}

drawPanel(0, 0, sigCPLA, {log: true, lo: -12.35, hi: -4.49, ticks: sigTickExpsA, labels: sigLabelExpsA});
drawPanel(1, 0, sigC1, {log: true, lo: -12.28, hi: -4.81, ticks: sigTickExpsA, labels: sigLabelExpsA});
drawPanel(2, 0, sigC2, {log: true, lo: -10, hi: -4, ticks: sigTickExpsC2, labels: sigLabelExpsC2});
drawPanel(0, 1, phiCPLA, {log: false, lo: -90, hi: -85, ticks: phiTicksCPLA, labels: phiTicksCPLA});
drawPanel(1, 1, phiC1, {log: false, lo: -90, hi: -74.9, ticks: phiTicksC1, labels: phiTicksC1});
drawPanel(2, 1, phiC2, {log: false, lo: -90.2, hi: -5.4, ticks: phiTicksC2, labels: phiTicksC2});

// ---------------- TEXT OVERLAY + LEGEND ----------------
const ov = d3.select(fig).append("svg").attr("width", 1202).attr("height", 798)
  .style("position", "absolute").style("left", 0).style("top", 0).style("font-family", FONT);
panelTitles.forEach((t, i) => {
  ov.append("text").attr("x", L.left[i] + L.w/2).attr("y", 35).attr("text-anchor", "middle")
    .attr("font-size", 28).attr("font-weight", "bold").attr("fill", "#000").text(t);
  ov.append("text").attr("x", L.left[i] + L.w/2).attr("y", 783).attr("text-anchor", "middle")
    .attr("font-size", 27).attr("fill", AXIS).text("Frequency (Hz)");
});
const yt1 = ov.append("text").attr("transform", `translate(38,${L.top[0] + L.h/2}) rotate(-90)`)
  .attr("text-anchor", "middle").attr("font-size", 28).attr("fill", AXIS);
yt1.append("tspan").text("|");
yt1.append("tspan").attr("font-style", "italic").text("σ");
yt1.append("tspan").text("| (S/cm)");
const yt2 = ov.append("text").attr("transform", `translate(38,${L.top[1] + L.h/2}) rotate(-90)`)
  .attr("text-anchor", "middle").attr("font-size", 28).attr("fill", AXIS);
yt2.append("tspan").attr("font-style", "italic").text("ϕ");
yt2.append("tspan").text(" (");
yt2.append("tspan").attr("dy", "-0.35em").attr("font-size", 18).text("o");
yt2.append("tspan").attr("dy", "0.35em").text(")");

const lg = ov.append("g");
const LG = {x: 494.5, y: 409, w: 73, h: 228, row0: 420.5, dy: 17.25};
lg.append("rect").attr("x", LG.x).attr("y", LG.y).attr("width", LG.w).attr("height", LG.h)
  .attr("fill", "#fff").attr("stroke", AXIS).attr("stroke-width", 1);
temps.forEach((t, i) => {
  const cy = LG.row0 + i * LG.dy;
  lg.append("line").attr("x1", 499).attr("x2", 531).attr("y1", cy).attr("y2", cy)
    .attr("stroke", seriesColors[i]).attr("stroke-width", 1)
    .attr("stroke-dasharray", seriesSymbols[i] === "none" ? "7,3,2,3" : null);
  const s = SYM[seriesSymbols[i]];
  if (s) {
    const p = d3.path(); s.draw(p, Math.PI * MR * MR);
    lg.append("path").attr("d", p.toString()).attr("transform", `translate(515,${cy})`)
      .attr("fill", "#fff").attr("stroke", seriesColors[i]).attr("stroke-width", 1);
  }
  lg.append("text").attr("x", 535).attr("y", cy).attr("dy", "0.35em").attr("font-size", 12.5)
    .attr("fill", AXIS).text(t);
});
</script></body></html>
